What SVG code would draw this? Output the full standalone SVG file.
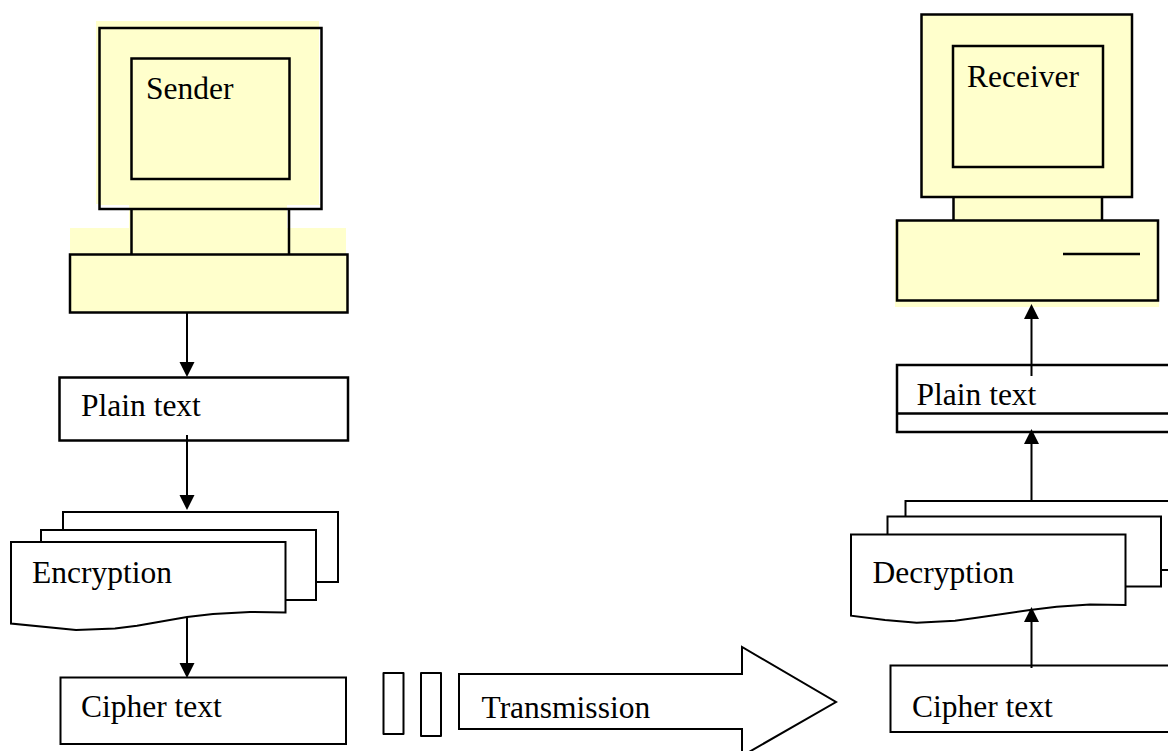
<svg xmlns="http://www.w3.org/2000/svg" width="1168" height="751" viewBox="0 0 1168 751">
<style>
.b{fill:none;stroke:#000;stroke-width:2.5}
.y{fill:#FFFFCC;stroke:none}
.w{fill:#fff;stroke:#000;stroke-width:2}
.t{font-family:"Liberation Serif","Times New Roman",serif;font-size:31.5px;fill:#000}
.c{fill:none;stroke:#000;stroke-width:2}
.h{fill:#000;stroke:none}
</style>
<rect width="1168" height="751" fill="#fff"/>
<g id="sender">
<rect class="y" x="96" y="21" width="223" height="183"/>
<rect class="y" x="100" y="204" width="221" height="1"/>
<rect class="y" x="129" y="204" width="158" height="50"/>
<rect class="y" x="70" y="228" width="276" height="26"/>
<rect class="y" x="70" y="254" width="278" height="59"/>
<rect class="b" x="99.500" y="28" width="222" height="181"/>
<rect class="b" x="131.500" y="58.500" width="158" height="120.500"/>
<path class="b" d="M131.500 209V254M289 209V254"/>
<rect class="b" x="70" y="254.500" width="277.500" height="58"/>
<text class="t" x="146" y="99">Sender</text>
</g>
<g id="receiver">
<rect class="y" x="921" y="14" width="211" height="183"/>
<rect class="y" x="953" y="197" width="150" height="24"/>
<rect class="y" x="895" y="220" width="264" height="87"/>
<rect class="b" x="921.500" y="14.500" width="210.500" height="182.500"/>
<rect class="b" x="953" y="46" width="150" height="121"/>
<path class="b" d="M953.500 197V220.500M1102 197V220.500"/>
<rect class="b" x="897" y="220.500" width="261" height="80"/>
<path class="b" d="M1063 254H1140"/>
<text class="t" x="967" y="87">Receiver</text>
</g>
<g id="plain-text-left">
<rect class="b" x="59.500" y="377.500" width="288.500" height="63"/>
<text class="t" x="81" y="416">Plain text</text>
</g>
<g id="encryption">
<path class="w" d="M63 542V512H338V582H300"/>
<path class="w" d="M41 542V530H316V600H285"/>
<path class="w" d="M11 542H285.500V612.500L250 612L213 614L187 617L137 625.700L115 628.500L76 630L11 623.500Z"/>
<text class="t" x="32" y="583">Encryption</text>
</g>
<g id="cipher-text-left">
<rect class="c" x="60.500" y="677.500" width="285.500" height="66.500"/>
<text class="t" x="81" y="717">Cipher text</text>
</g>
<g id="gap-bars">
<rect class="c" x="383.500" y="673" width="20" height="61" stroke-linejoin="round"/>
<rect class="c" x="421" y="673" width="20" height="63" stroke-linejoin="round"/>
</g>
<g id="transmission">
<path class="c" d="M459 674H742V647L836 702L742 756V729H459Z"/>
<text class="t" x="481.500" y="717.500">Transmission</text>
</g>
<g id="plain-text-right">
<path class="b" d="M1168 365H897V432H1168M897 413.500H1168"/>
<text class="t" x="916.500" y="405">Plain text</text>
</g>
<g id="decryption">
<path class="w" d="M905.500 534V501H1168"/>
<path class="c" d="M1161 570H1168"/>
<path class="w" d="M887.500 534V516.500H1161V586.500H1125"/>
<path class="w" d="M851 534.500H1125.500V605L1090 604.500L1056.700 606.700L1030 610L976.700 617.700L955 620.700L916.700 622.700L885 620L851 615.700Z"/>
<text class="t" x="872.500" y="582.500">Decryption</text>
</g>
<g id="cipher-text-right">
<path class="c" d="M1168 665.500H890.500V732H1168"/>
<text class="t" x="912" y="717">Cipher text</text>
</g>
<g id="connectors">
<path class="c" d="M187 313V362M187 435V497M187 617V664M1031.500 376V318M1031.500 500V444M1031.500 668V621"/>
<path class="h" d="M179.500 362H194.500L187 377ZM179.500 495H194.500L187 510ZM179.500 663H194.500L187 678Z"/>
<path class="h" d="M1024 319H1039L1031.500 304ZM1024 444H1039L1031.500 429ZM1024 622H1039L1031.500 607Z"/>
</g>
</svg>
